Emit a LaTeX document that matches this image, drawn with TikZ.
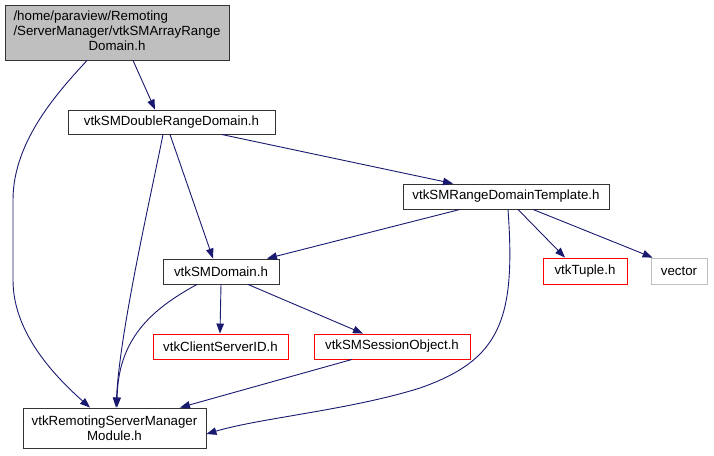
\documentclass[tikz,border=0pt]{standalone}
\usepackage{fontspec}
\setmainfont{Liberation Sans}
\usetikzlibrary{arrows.meta}
\definecolor{edgecol}{HTML}{191970}
\definecolor{redb}{HTML}{FF0000}
\definecolor{greyb}{HTML}{BFBFBF}
\definecolor{topfill}{HTML}{BFBFBF}
\tikzset{
  box/.style={draw=black!80, line width=0.9pt, fill=white, inner sep=0pt, anchor=center,
    font=\fontsize{13.3}{15}\selectfont, align=center},
  redbox/.style={box, draw=redb},
  greybox/.style={box, draw=greyb},
  edge/.style={draw=edgecol, line width=0.9pt, -{Triangle[length=10pt,width=7.5pt]}},
}
\begin{document}
\begin{tikzpicture}[x=1pt,y=-1pt]
\useasboundingbox (0,0) rectangle (714,455);
\node[box, fill=topfill, minimum width=224, minimum height=55] (top) at (117,32.5)
  {\begin{tabular}{@{}l@{}}/home/paraview/Remoting\\/ServerManager/vtkSMArrayRange\\\multicolumn{1}{@{}c@{}}{Domain.h}\end{tabular}};
\node[box, minimum width=207, minimum height=24] (dbl) at (171.5,122) {vtkSMDoubleRangeDomain.h};
\node[box, minimum width=206, minimum height=25] (tmpl) at (506,196.5) {vtkSMRangeDomainTemplate.h};
\node[box, minimum width=116, minimum height=25] (dom) at (221,271.5) {vtkSMDomain.h};
\node[redbox, minimum width=84, minimum height=26] (tuple) at (585,271) {vtkTuple.h};
\node[greybox, minimum width=56, minimum height=26] (vec) at (679,271) {vector};
\node[redbox, minimum width=135, minimum height=25] (csid) at (220.5,346.5) {vtkClientServerID.h};
\node[redbox, minimum width=156, minimum height=25] (sess) at (392,346.5) {vtkSMSessionObject.h};
\node[box, minimum width=183, minimum height=40] (mod) at (114.5,428) {vtkRemotingServerManager\\Module.h};

\draw[edge] ([xshift=16]top.south) -- ([xshift=-16.5]dbl.north);
\draw[edge] ([xshift=-30]top.south) .. controls (60,90) and (13,140) .. (13,200)
  -- (13,280) .. controls (13,330) and (50,372) .. ([xshift=-24.5]mod.north);
\draw[edge] ([xshift=50]dbl.south) -- ([xshift=-53]tmpl.north);
\draw[edge] ([xshift=-1.5]dbl.south) -- ([xshift=-8]dom.north);
\draw[edge] ([xshift=-8.5]dbl.south) .. controls (150,200) and (120,330) .. ([xshift=1.5]mod.north);
\draw[edge] ([xshift=-24]dom.south) .. controls (150,310) and (118,340) .. ([xshift=2.5]mod.north);
\draw[edge] (dom.south) -- ([xshift=-0.5]csid.north);
\draw[edge] ([xshift=27]dom.south) -- ([xshift=-29]sess.north);
\draw[edge] ([xshift=-40]sess.south) -- ([xshift=65.5]mod.north);
\draw[edge] ([xshift=-46]tmpl.south) -- ([xshift=46]dom.north);
\draw[edge] ([xshift=2]tmpl.south) .. controls (516,320) and (500,360) .. (420,388)
  .. controls (350,410) and (260,418) .. ([yshift=-6]mod.east);
\draw[edge] ([xshift=12]tmpl.south) -- ([xshift=-20]tuple.north);
\draw[edge] ([xshift=27]tmpl.south) -- ([xshift=2]vec.north west);
\end{tikzpicture}
\end{document}
